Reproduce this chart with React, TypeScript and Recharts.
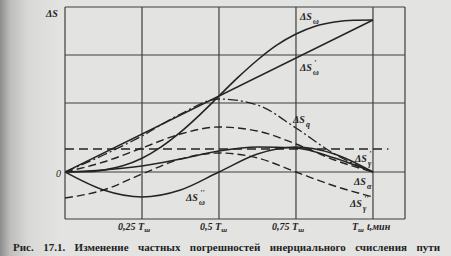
import { LineChart, Line, XAxis, YAxis, ReferenceLine } from 'recharts';

// time in fractions of the Schuler period T_ш
const tFine = [0, 0.0625, 0.125, 0.1875, 0.25, 0.3125, 0.375, 0.4375, 0.5, 0.5625, 0.625, 0.6875, 0.75, 0.8125, 0.875, 0.9375, 1];
const tCoarse = [0, 0.125, 0.25, 0.375, 0.5, 0.625, 0.75, 0.875, 1];
const tLinear = [0, 1];
const tConst = [0, 1.05];

// partial errors, arbitrary units
const dsOmega = [0, 0.2, 1.9, 6.2, 13.8, 25.2, 39.9, 57.2, 76, 94.8, 112, 126.8, 138, 145.8, 150, 151.8, 152];
const dsOmega1 = [0, 152];
const dsOmega2 = [0, -18, -25, -18, 0, 18, 25, 18, 0];
const dsQ = [0, 17, 36, 58, 73, 67, 44, 18, 0];
const dsGamma1 = [0, 10, 24, 38, 45, 41, 28, 12, 0];
const dsAlpha = [0, 2, 6, 13, 21, 25, 24, 14, 0];
const dsGamma2 = [-26, -18, -2, 13, 19, 14, 0, -14, -25];
const dsConst = [23, 23];

const xGrid = [0, 0.25, 0.5, 0.75, 1, 1.104];
const yGrid = [-47, 0, 69, 117, 165];
const xTicks = [0.25, 0.5, 0.75, 1];
const xTickLabels = ['0,25', '0,5', '0,75', ''];

const toRows = (ts: number[], vs: number[]) => ts.map((t, i) => ({ t, v: vs[i] }));

const INK = '#242424';
const FONT = '"Liberation Serif", "DejaVu Serif", serif';
const TICK_BASE = 230;

const XTick = (props: any) => {
  const { x, payload } = props;
  const i = xTicks.indexOf(payload.value);
  if (payload.value === 1) {
    return (
      <g fontFamily={FONT} fontStyle="italic" fontWeight="bold" fill={INK}>
        <text x={x - 21} y={TICK_BASE} fontSize={10}>T<tspan fontSize={7} dy={2}>ш</tspan></text>
        <text x={x - 6} y={TICK_BASE} fontSize={10}>t,мин</text>
      </g>
    );
  }
  return (
    <text x={x + 8} y={TICK_BASE} textAnchor="end" fontFamily={FONT} fontStyle="italic" fontWeight="bold" fontSize={10} fill={INK}>
      {xTickLabels[i]} T<tspan fontSize={7} dy={2}>ш</tspan>
    </text>
  );
};

// ΔS with subscript and an optional prime stacked above it
const Sym = ({ x, y, sub, prime }: { x: number; y: number; sub: string; prime?: string }) => (
  <g fontFamily={FONT} fontStyle="italic" fontWeight="bold" fill={INK}>
    <text x={x} y={y} fontSize={10}>ΔS</text>
    <text x={x + 13} y={y + 4} fontSize={8}>{sub}</text>
    {prime && <text x={x + 14} y={y - 5} fontSize={8}>{prime}</text>}
  </g>
);

export default function App() {
  return (
    <div
      style={{
        position: 'absolute',
        left: 0,
        top: 0,
        width: 451,
        height: 256,
        overflow: 'hidden',
        background: 'linear-gradient(to right, #8c8c8c 0px, #bdbdbb 10px, #d8d8d6 28px, #e3e3e1 60px)',
      }}
    >
      <LineChart width={451} height={256} margin={{ top: 7, right: 46, bottom: 17, left: 65 }}>
        <XAxis
          type="number"
          dataKey="t"
          domain={[0, 1.104]}
          ticks={xTicks}
          tick={<XTick />}
          axisLine={false}
          tickLine={false}
          height={20}
          allowDataOverflow
        />
        <YAxis type="number" domain={[-47, 165]} hide allowDataOverflow />
        {xGrid.map((g) => (
          <ReferenceLine key={`x${g}`} x={g} stroke="#3e3e3e" strokeWidth={1.2} />
        ))}
        {yGrid.map((g) => (
          <ReferenceLine key={`y${g}`} y={g} stroke="#3e3e3e" strokeWidth={1.2} />
        ))}
        <Line data={toRows(tConst, dsConst)} dataKey="v" stroke={INK} strokeWidth={1.4} strokeDasharray="9 5" dot={false} isAnimationActive={false} />
        <Line data={toRows(tCoarse, dsGamma2)} dataKey="v" type="monotone" stroke={INK} strokeWidth={1.4} strokeDasharray="8 4" dot={false} isAnimationActive={false} />
        <Line data={toRows(tCoarse, dsGamma1)} dataKey="v" type="monotone" stroke={INK} strokeWidth={1.4} strokeDasharray="8 4" dot={false} isAnimationActive={false} />
        <Line data={toRows(tCoarse, dsQ)} dataKey="v" type="monotone" stroke={INK} strokeWidth={1.3} strokeDasharray="10 3 2 3" dot={false} isAnimationActive={false} />
        <Line data={toRows(tCoarse, dsAlpha)} dataKey="v" type="monotone" stroke={INK} strokeWidth={1.5} dot={false} isAnimationActive={false} />
        <Line data={toRows(tCoarse, dsOmega2)} dataKey="v" type="monotone" stroke={INK} strokeWidth={1.5} dot={false} isAnimationActive={false} />
        <Line data={toRows(tLinear, dsOmega1)} dataKey="v" stroke={INK} strokeWidth={1.5} dot={false} isAnimationActive={false} />
        <Line data={toRows(tFine, dsOmega)} dataKey="v" type="monotone" stroke={INK} strokeWidth={1.6} dot={false} isAnimationActive={false} />
      </LineChart>

      <svg width={451} height={256} style={{ position: 'absolute', left: 0, top: 0 }}>
        <text x={46} y={17} fontFamily={FONT} fontStyle="italic" fontWeight="bold" fontSize={10} fill={INK}>ΔS</text>
        <text x={56} y={177} fontFamily={FONT} fontStyle="italic" fontSize={10} fill={INK}>0</text>
        <Sym x={300} y={20} sub="ω" />
        <Sym x={300} y={71} sub="ω" prime="'" />
        <Sym x={293} y={123} sub="q" />
        <Sym x={355} y={162} sub="γ" prime="'" />
        <Sym x={354} y={185} sub="α" />
        <Sym x={350} y={207} sub="γ" prime="''" />
        <Sym x={186} y={201} sub="ω" prime="''" />
      </svg>

      <div
        style={{
          position: 'absolute',
          left: 13,
          top: 240,
          width: 427,
          fontFamily: FONT,
          fontWeight: 'bold',
          fontSize: 11,
          color: '#222',
          textAlign: 'justify',
          textAlignLast: 'justify',
          lineHeight: '14px',
        }}
      >
        Рис. 17.1. Изменение частных погрешностей инерциального счисления пути
      </div>
    </div>
  );
}
